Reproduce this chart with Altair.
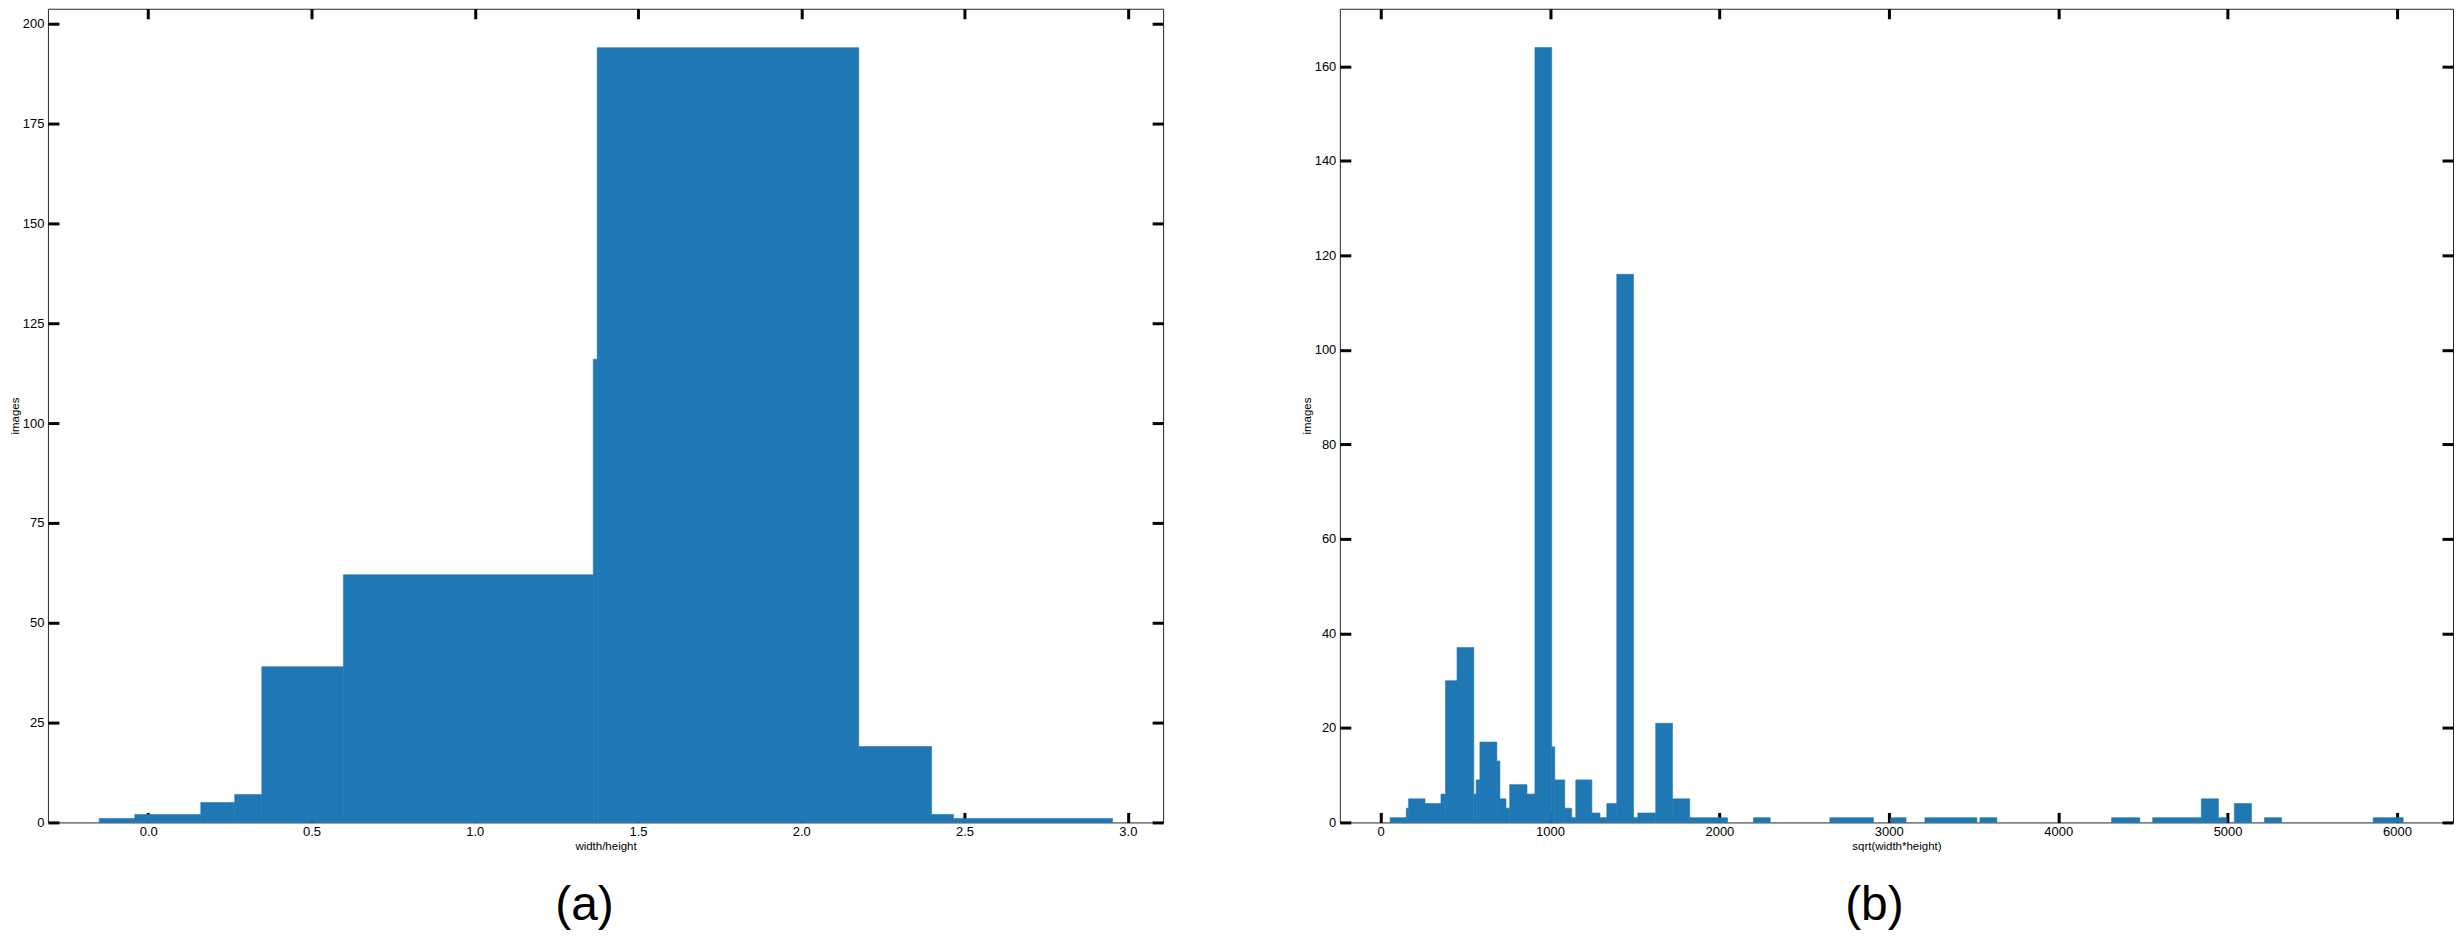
import altair as alt
import pandas as pd

# ---------------- panel (a): width/height ----------------
a_left = [-0.150, -0.041, 0.161, 0.265, 0.348, 0.598, 1.363, 1.375, 2.176, 2.399, 2.466]
a_right = [-0.041, 0.161, 0.265, 0.348, 0.598, 1.363, 1.375, 2.176, 2.399, 2.466, 2.953]
a_count = [1, 2, 5, 7, 39, 62, 116, 194, 19, 2, 1]
a_xticks = [0.0, 0.5, 1.0, 1.5, 2.0, 2.5, 3.0]
a_yticks = [0, 25, 50, 75, 100, 125, 150, 175, 200]
a_xdomain = [-0.307, 3.108]
a_ydomain = [0, 203.75]

# ---------------- panel (b): sqrt(width*height) ----------------
b_left = [56, 151, 165, 262, 356, 383, 451, 550, 564, 586, 686, 704, 740, 762, 864,
          911, 1010, 1028, 1087, 1128, 1152, 1247, 1295, 1335, 1394, 1493, 1518, 1624,
          1723, 1825, 2201, 2652, 3011, 3213, 3538, 4315, 4558, 4845, 4946, 5040, 5218, 5860]
b_right = [151, 165, 262, 356, 383, 451, 550, 564, 586, 686, 704, 740, 762, 864, 911,
           1010, 1028, 1087, 1128, 1152, 1247, 1295, 1335, 1394, 1493, 1518, 1624, 1723,
           1825, 2048, 2300, 2909, 3102, 3520, 3638, 4482, 4845, 4946, 4997, 5141, 5319, 6037]
b_count = [1, 3, 5, 4, 6, 30, 37, 6, 9, 17, 13, 5, 3, 8, 6,
           164, 16, 9, 3, 1, 9, 2, 1, 4, 116, 1, 2, 21,
           5, 1, 1, 1, 1, 1, 1, 1, 1, 5, 1, 4, 1, 1]
b_xticks = [0, 1000, 2000, 3000, 4000, 5000, 6000]
b_yticks = [0, 20, 40, 60, 80, 100, 120, 140, 160]
b_xdomain = [-241, 6331]
b_ydomain = [0, 172.2]

BAR = "#1f77b4"
FONT = "Liberation Sans"


def panel(left, right, count, xdom, ydom, xticks, yticks, xfmt, xtitle, caption, cap_dx, w, h):
    df = pd.DataFrame({"left": left, "right": right, "count": count})
    xs = alt.Scale(domain=xdom, nice=False, zero=False)
    ys = alt.Scale(domain=ydom, nice=False, zero=False)
    ax_bottom = alt.Axis(orient="bottom", values=xticks, format=xfmt, title=xtitle,
                         offset=-10, tickSize=10, labelPadding=3, titlePadding=2)
    ax_left = alt.Axis(orient="left", values=yticks, format="d", title="images",
                       offset=-11, tickSize=11, labelPadding=4, titlePadding=2)
    ax_top = alt.Axis(orient="top", values=xticks, labels=False, title=None,
                      offset=-10, tickSize=10)
    ax_right = alt.Axis(orient="right", values=yticks, labels=False, title=None,
                        offset=-11, tickSize=11)
    bars = alt.Chart(df).mark_rect(color=BAR, stroke=BAR, strokeWidth=0.6).encode(
        x=alt.X("left:Q", scale=xs, axis=ax_bottom),
        x2="right:Q",
        y=alt.Y("count:Q", scale=ys, axis=ax_left),
        y2=alt.datum(0),
    )
    mirror = alt.Chart(df).mark_rect(opacity=0).encode(
        x=alt.X("left:Q", scale=xs, axis=ax_top),
        x2="right:Q",
        y=alt.Y("count:Q", scale=ys, axis=ax_right),
        y2=alt.datum(0),
    )
    return alt.layer(bars, mirror).resolve_axis(x="independent", y="independent").properties(
        width=w, height=h,
        title=alt.TitleParams(text=caption, orient="bottom", anchor="middle", frame="group",
                              fontSize=48, font=FONT, fontWeight="normal", color="black",
                              offset=30, dx=cap_dx),
    )


pa = panel(a_left, a_right, a_count, a_xdomain, a_ydomain, a_xticks, a_yticks, ".1f",
           "width/height", "(a)", -21, 1117, 815)
pb = panel(b_left, b_right, b_count, b_xdomain, b_ydomain, b_xticks, b_yticks, "d",
           "sqrt(width*height)", "(b)", -22, 1115, 815)

chart = (
    alt.hconcat(pa, pb, spacing=135)
    .properties(padding={"left": 0, "right": 0, "top": -2, "bottom": 0})
    .configure_view(stroke="#262626", strokeWidth=1)
    .configure_axis(labelFont=FONT, labelFontSize=13, labelColor="black",
                    titleFont=FONT, titleFontSize=11.5, titleFontWeight="normal", titleColor="black",
                    tickColor="black", tickWidth=3, domain=False, grid=False,
                    labelFlush=False, labelOverlap=False)
)

chart.save("out.html", embed_options={"renderer": "svg", "actions": False})
